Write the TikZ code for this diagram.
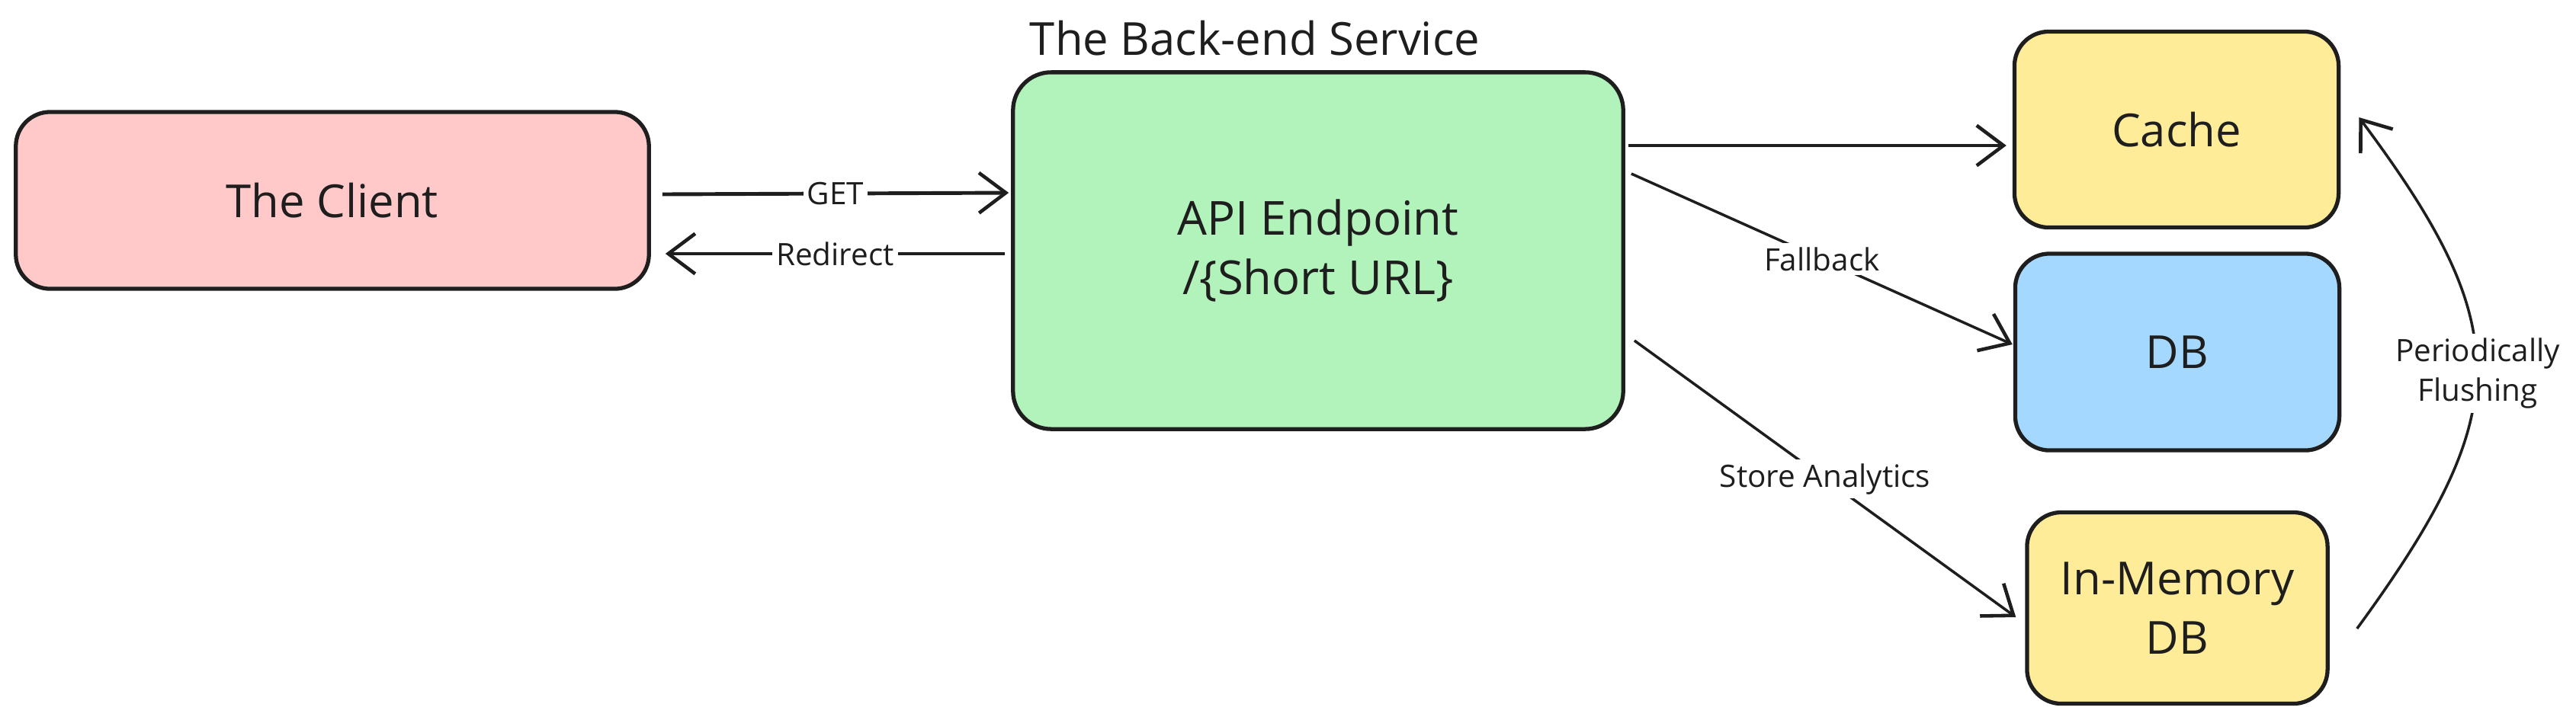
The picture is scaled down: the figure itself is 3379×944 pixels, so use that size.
\documentclass[tikz,border=0pt]{standalone}
\usepackage{fontspec}
\setmainfont{Open Sans}
\usetikzlibrary{arrows.meta,calc}
\definecolor{ink}{HTML}{1E1E1E}
\definecolor{pinkfill}{HTML}{FFC9C9}
\definecolor{greenfill}{HTML}{B2F2BB}
\definecolor{yellowfill}{HTML}{FFEC99}
\definecolor{bluefill}{HTML}{A5D8FF}
\tikzset{
  box/.style={draw=ink, line width=1.5pt, rounded corners=0.45cm, inner sep=0pt, align=center, font=\fontsize{17}{22}\selectfont, text=ink},
  arr/.style={draw=ink, line width=1.4pt, -{Straight Barb[length=10pt,width=15pt,line width=1.3pt]}},
  thinarr/.style={arr, line width=1.0pt},
  lbl/.style={fill=white, inner sep=1.5pt, font=\fontsize{11.5}{15}\selectfont, text=ink, align=center},
}
\begin{document}
\begin{tikzpicture}[x=0.01cm,y=-0.01cm]
\useasboundingbox (0,0) rectangle (3379,944);
\fill[white] (0,0) rectangle (3379,944);

\node[box, fill=pinkfill, minimum width=8.3cm, minimum height=2.32cm] (client) at (436,263) {The Client};
\node[box, fill=greenfill, rounded corners=0.5cm, minimum width=8.0cm, minimum height=4.68cm, font=\fontsize{17.5}{22}\selectfont] (api) at (1729,329) {API Endpoint\\/\{Short URL\}};
\node[font=\fontsize{17}{20}\selectfont, text=ink, anchor=center] (title) at (1646,50) {The Back-end Service};
\node[box, fill=yellowfill, minimum width=4.25cm, minimum height=2.57cm] (cache) at (2855,170) {Cache};
\node[box, fill=bluefill, minimum width=4.25cm, minimum height=2.58cm] (db) at (2856,462) {DB};
\node[box, fill=yellowfill, minimum width=3.94cm, minimum height=2.51cm] (inmem) at (2856,798) {In-Memory\\DB};

\draw[arr] ($(client.east)+(15,-8)$) -- node[lbl]{GET} ($(api.west)+(-3,-76)$);
\draw[arr] ($(api.west)+(-8,4)$) -- node[lbl]{Redirect} ($(client.east)+(19,70)$);
\draw[arr] ($(api.east)+(4,-138)$) -- ($(cache.west)+(-8,21)$);
\draw[thinarr] ($(api.east)+(8,-101)$) -- node[lbl]{Fallback} ($(db.west)+(-1,-10)$);
\draw[thinarr] ($(api.east)+(12,118)$) -- node[lbl]{Store Analytics} ($(inmem.west)+(-12,12)$);
\draw[thinarr] ($(inmem.east)+(36,27)$) .. controls (3300,540) and (3300,430) .. ($(cache.east)+(24,-16)$);
\node[lbl] (flush) at (3250,490) {Periodically\\Flushing};
\end{tikzpicture}
\end{document}
